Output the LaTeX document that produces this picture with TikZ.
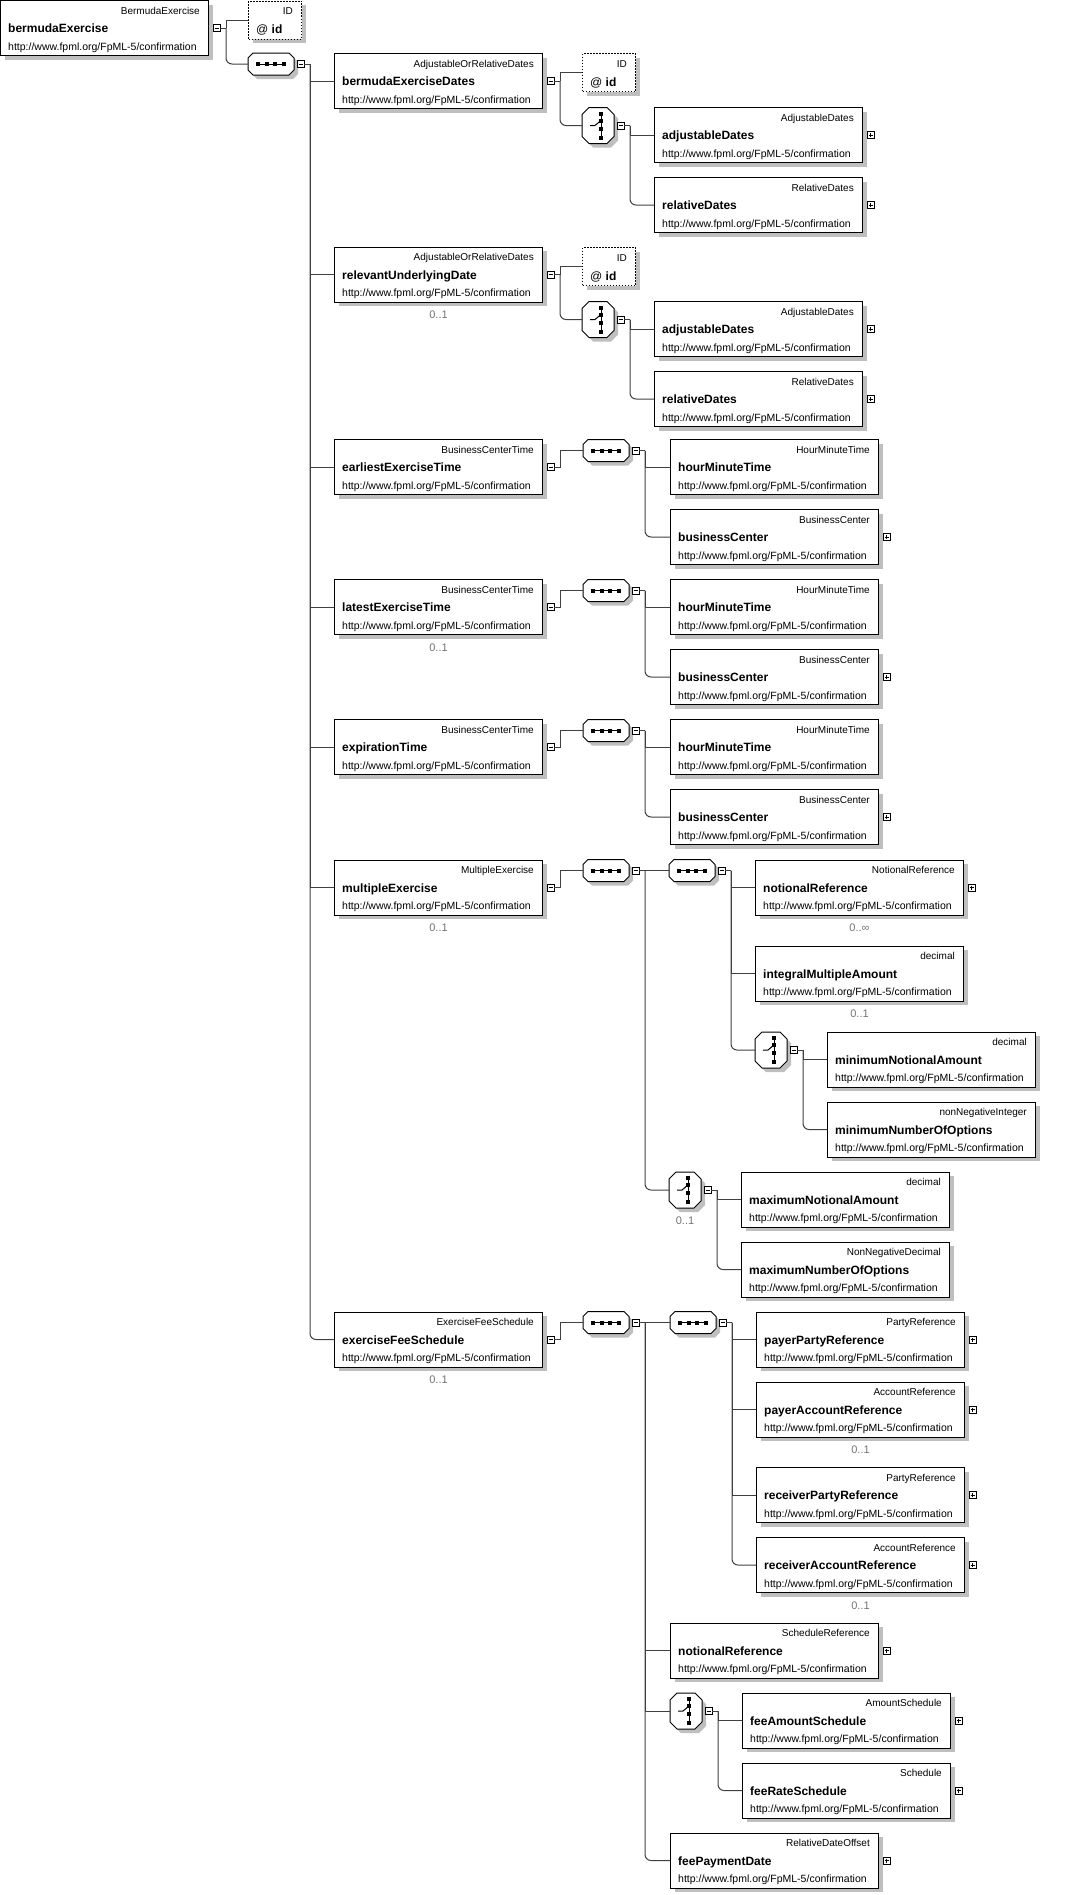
\documentclass[tikz,border=0pt]{standalone}
\usepackage{fontspec}
\setmainfont{Liberation Sans}
\usepackage{tikz}
\usetikzlibrary{positioning}
\usetikzlibrary{calc}
\usetikzlibrary{shadows}

\tikzset{
  elem/.style={draw, line width=1pt, fill=white, inner sep=0pt, minimum width=208pt, minimum height=55pt,
    drop shadow={shadow xshift=4pt, shadow yshift=-4pt, fill=black!25, opacity=1}},
  attr/.style={elem, dash pattern=on 1.5pt off 1.5pt, minimum width=53pt, minimum height=38pt},
  sym/.style={inner sep=0pt, outer sep=0pt},
  typelbl/.style={inner sep=0pt, font=\fontsize{10}{12}\selectfont},
  namelbl/.style={inner sep=0pt, font=\fontsize{12}{14}\selectfont\bfseries},
  urllbl/.style={inner sep=0pt, font=\fontsize{10.5}{12}\selectfont},
  occ/.style={inner sep=0pt, text=black!55, font=\fontsize{11}{13}\selectfont},
  mbox/.style={draw, fill=white, line width=.8pt, inner sep=0pt, outer sep=0pt, minimum size=7pt,
    path picture={\draw[line width=.8pt] ([xshift=1.5pt]path picture bounding box.west) -- ([xshift=-1.5pt]path picture bounding box.east);}},
  pbox/.style={draw, fill=white, line width=.8pt, inner sep=0pt, outer sep=0pt, minimum size=7pt,
    path picture={\draw[line width=.8pt] ([xshift=1.5pt]path picture bounding box.west) -- ([xshift=-1.5pt]path picture bounding box.east)
      ([yshift=-1.5pt]path picture bounding box.north) -- ([yshift=1.5pt]path picture bounding box.south);}},
  conn/.style={line width=1pt, draw=black!75},
}

% element box: name, west point, type, element name
\newcommand{\elbox}[4]{%
  \node[elem, anchor=west] (#1) at (#2) {};
  \node[typelbl, anchor=base east] (#1-t) at ($(#1.north east)+(-9,14)$) {#3};
  \node[namelbl, anchor=base west] (#1-n) at ($(#1.west)+(8,4.5)$) {#4};
  \node[urllbl, anchor=base west] (#1-u) at ($(#1.south west)+(8,-6)$) {http://www.fpml.org/FpML-5/confirmation};
}
\newcommand{\attrbox}[2]{%
  \node[attr, anchor=west] (#1) at (#2) {};
  \node[typelbl, anchor=base east] (#1-t) at ($(#1.north east)+(-9,14)$) {ID};
  \node[namelbl, anchor=base west] (#1-n) at ($(#1.north west)+(8,33)$) {\mdseries @ \bfseries id};
}
\newcommand{\seqsym}[2]{%
  \node[sym, minimum width=46pt, minimum height=22pt, anchor=west] (#1) at (#2) {};
  \fill[black!25] ($(#1.north west)+(9,4)$) -- ++(36,0) -- ++(5,5) -- ++(0,12) -- ++(-5,5) -- ++(-36,0) -- ++(-5,-5) -- ++(0,-12) -- cycle;
  \draw[line width=1pt, fill=white] ($(#1.north west)+(5,0)$) -- ++(36,0) -- ++(5,5) -- ++(0,12) -- ++(-5,5) -- ++(-36,0) -- ++(-5,-5) -- ++(0,-12) -- cycle;
  \draw[line width=1pt] ($(#1.west)+(8,0)$) -- ++(30,0);
  \foreach \d in {10,19,27,36} \fill ($(#1.west)+(\d,0)$) +(-2,-2) rectangle +(2,2);
}
\newcommand{\choicesym}[2]{%
  \node[sym, minimum width=32pt, minimum height=36pt, anchor=west] (#1) at (#2) {};
  \fill[black!25] ($(#1.north west)+(11,4)$) -- ++(18,0) -- ++(7,7) -- ++(0,22) -- ++(-7,7) -- ++(-18,0) -- ++(-7,-7) -- ++(0,-22) -- cycle;
  \draw[line width=1pt, fill=white] ($(#1.north west)+(7,0)$) -- ++(18,0) -- ++(7,7) -- ++(0,22) -- ++(-7,7) -- ++(-18,0) -- ++(-7,-7) -- ++(0,-22) -- cycle;
  \draw[line width=1pt] ($(#1.north west)+(19,6)$) -- ++(0,24);
  \draw[line width=1pt] ($(#1.north west)+(8,18)$) -- ++(5,0) -- ++(6,-5);
  \foreach \d in {6,13,21,30} \fill ($(#1.north west)+(19,\d)$) +(-2,-2) rectangle +(2,2);
}
\newcommand{\occurs}[2]{\node[occ, anchor=base] (#1-o) at ($(#1.south)+(0,16)$) {#2};}
\newcommand{\minusbox}[2][4pt]{\node[mbox, right=#1 of #2] (#2-m) {};}
\newcommand{\plusbox}[1]{\node[pbox, right=4pt of #1] (#1-p) {};}

\begin{document}
\begin{tikzpicture}[x=1pt, y=-1pt]
  \useasboundingbox (0,0) rectangle (1076,1895);

  % root
  \elbox{root}{0,28}{BermudaExercise}{bermudaExercise}
  \minusbox{root}
  \attrbox{root-id}{248,20}
  \seqsym{root-s}{248,64}
  \minusbox[3pt]{root-s}

  % main sequence
  \elbox{bed}{334,81}{AdjustableOrRelativeDates}{bermudaExerciseDates}
  \minusbox{bed}
  \elbox{rud}{334,274.5}{AdjustableOrRelativeDates}{relevantUnderlyingDate}
  \minusbox{rud}
  \occurs{rud}{0..1}
  \elbox{eet}{334,467}{BusinessCenterTime}{earliestExerciseTime}
  \minusbox{eet}
  \elbox{lat}{334,607}{BusinessCenterTime}{latestExerciseTime}
  \minusbox{lat}
  \occurs{lat}{0..1}
  \elbox{exp}{334,747}{BusinessCenterTime}{expirationTime}
  \minusbox{exp}
  \elbox{mex}{334,887.5}{MultipleExercise}{multipleExercise}
  \minusbox{mex}
  \occurs{mex}{0..1}
  \elbox{efs}{334,1339.5}{ExerciseFeeSchedule}{exerciseFeeSchedule}
  \minusbox{efs}
  \occurs{efs}{0..1}

  % dates
  \foreach \g/\ty in {bed/53, rud/247} {
    \attrbox{\g-id}{582,\ty+19.5}
    \choicesym{\g-c}{582,\ty+72.5}
    \minusbox[3pt]{\g-c}
    \elbox{\g-adj}{654,\ty+82}{AdjustableDates}{adjustableDates}
    \plusbox{\g-adj}
    \elbox{\g-rel}{654,\ty+152}{RelativeDates}{relativeDates}
    \plusbox{\g-rel}
  }

  % times
  \foreach \g/\ty in {eet/439, lat/579, exp/719} {
    \seqsym{\g-s}{583,\ty+11.5}
    \minusbox[3pt]{\g-s}
    \elbox{\g-hmt}{670,\ty+28}{HourMinuteTime}{hourMinuteTime}
    \elbox{\g-bc}{670,\ty+98}{BusinessCenter}{businessCenter}
    \plusbox{\g-bc}
  }

  % multiple exercise
  \seqsym{mex-s}{583,870.5}
  \minusbox[3pt]{mex-s}
  \seqsym{mex-s2}{669,870.5}
  \minusbox[3pt]{mex-s2}
  \elbox{mex-nr}{755,887.5}{NotionalReference}{notionalReference}
  \plusbox{mex-nr}
  \occurs{mex-nr}{0..∞}
  \elbox{mex-ima}{755,973.5}{decimal}{integralMultipleAmount}
  \occurs{mex-ima}{0..1}
  \choicesym{mex-c3}{755,1050}
  \minusbox[3pt]{mex-c3}
  \elbox{mex-mna}{827,1059.5}{decimal}{minimumNotionalAmount}
  \elbox{mex-mno}{827,1129.5}{nonNegativeInteger}{minimumNumberOfOptions}
  \choicesym{mex-c4}{669,1190}
  \minusbox[3pt]{mex-c4}
  \occurs{mex-c4}{0..1}
  \elbox{mex-xna}{741,1199.5}{decimal}{maximumNotionalAmount}
  \elbox{mex-xno}{741,1269.5}{NonNegativeDecimal}{maximumNumberOfOptions}

  % exercise fee schedule
  \seqsym{efs-s}{583,1322.5}
  \minusbox[3pt]{efs-s}
  \seqsym{efs-s2}{670,1322.5}
  \minusbox[3pt]{efs-s2}
  \elbox{efs-ppr}{756,1339.5}{PartyReference}{payerPartyReference}
  \plusbox{efs-ppr}
  \elbox{efs-par}{756,1409.5}{AccountReference}{payerAccountReference}
  \plusbox{efs-par}
  \occurs{efs-par}{0..1}
  \elbox{efs-rpr}{756,1495}{PartyReference}{receiverPartyReference}
  \plusbox{efs-rpr}
  \elbox{efs-rar}{756,1565}{AccountReference}{receiverAccountReference}
  \plusbox{efs-rar}
  \occurs{efs-rar}{0..1}
  \elbox{efs-nr}{670,1650.5}{ScheduleReference}{notionalReference}
  \plusbox{efs-nr}
  \choicesym{efs-c}{670,1711}
  \minusbox[3pt]{efs-c}
  \elbox{efs-fas}{742,1720.5}{AmountSchedule}{feeAmountSchedule}
  \plusbox{efs-fas}
  \elbox{efs-frs}{742,1790.5}{Schedule}{feeRateSchedule}
  \plusbox{efs-frs}
  \elbox{efs-fpd}{670,1860.5}{RelativeDateOffset}{feePaymentDate}
  \plusbox{efs-fpd}

  % connectors
  \draw[conn] (root-m.east) -- ++(6,0) coordinate (root-v);
  \draw[conn] (root-v) |- (root-id.west);
  \draw[conn, rounded corners=6pt] (root-v) |- (root-s.west);
  \draw[conn] (root-s-m.east) -- ++(6,0) coordinate (root-s-v);
  \foreach \n in {bed,rud,eet,lat,exp,mex} \draw[conn] (root-s-v) |- (\n.west);
  \draw[conn, rounded corners=6pt] (root-s-v) |- (efs.west);

  \foreach \g in {bed,rud} {
    \draw[conn] (\g-m.east) -- ++(6,0) coordinate (\g-v);
    \draw[conn] (\g-v) |- (\g-id.west);
    \draw[conn, rounded corners=6pt] (\g-v) |- (\g-c.west);
    \draw[conn] (\g-c-m.east) -- ++(6,0) coordinate (\g-c-v);
    \draw[conn] (\g-c-v) |- (\g-adj.west);
    \draw[conn, rounded corners=6pt] (\g-c-v) |- (\g-rel.west);
  }
  \foreach \g in {eet,lat,exp} {
    \draw[conn] (\g-m.east) -- ++(6,0) |- (\g-s.west);
    \draw[conn] (\g-s-m.east) -- ++(6,0) coordinate (\g-s-v);
    \draw[conn] (\g-s-v) |- (\g-hmt.west);
    \draw[conn, rounded corners=6pt] (\g-s-v) |- (\g-bc.west);
  }

  \draw[conn] (mex-m.east) -- ++(6,0) |- (mex-s.west);
  \draw[conn] (mex-s-m.east) -- ++(6,0) coordinate (mex-s-v);
  \draw[conn] (mex-s-v) |- (mex-s2.west);
  \draw[conn, rounded corners=6pt] (mex-s-v) |- (mex-c4.west);
  \draw[conn] (mex-s2-m.east) -- ++(6,0) coordinate (mex-s2-v);
  \foreach \n in {mex-nr,mex-ima} \draw[conn] (mex-s2-v) |- (\n.west);
  \draw[conn, rounded corners=6pt] (mex-s2-v) |- (mex-c3.west);
  \draw[conn] (mex-c3-m.east) -- ++(6,0) coordinate (mex-c3-v);
  \draw[conn] (mex-c3-v) |- (mex-mna.west);
  \draw[conn, rounded corners=6pt] (mex-c3-v) |- (mex-mno.west);
  \draw[conn] (mex-c4-m.east) -- ++(6,0) coordinate (mex-c4-v);
  \draw[conn] (mex-c4-v) |- (mex-xna.west);
  \draw[conn, rounded corners=6pt] (mex-c4-v) |- (mex-xno.west);

  \draw[conn] (efs-m.east) -- ++(6,0) |- (efs-s.west);
  \draw[conn] (efs-s-m.east) -- ++(6,0) coordinate (efs-s-v);
  \foreach \n in {efs-s2,efs-nr,efs-c} \draw[conn] (efs-s-v) |- (\n.west);
  \draw[conn, rounded corners=6pt] (efs-s-v) |- (efs-fpd.west);
  \draw[conn] (efs-s2-m.east) -- ++(6,0) coordinate (efs-s2-v);
  \foreach \n in {efs-ppr,efs-par,efs-rpr} \draw[conn] (efs-s2-v) |- (\n.west);
  \draw[conn, rounded corners=6pt] (efs-s2-v) |- (efs-rar.west);
  \draw[conn] (efs-c-m.east) -- ++(6,0) coordinate (efs-c-v);
  \draw[conn] (efs-c-v) |- (efs-fas.west);
  \draw[conn, rounded corners=6pt] (efs-c-v) |- (efs-frs.west);
\end{tikzpicture}
\end{document}
